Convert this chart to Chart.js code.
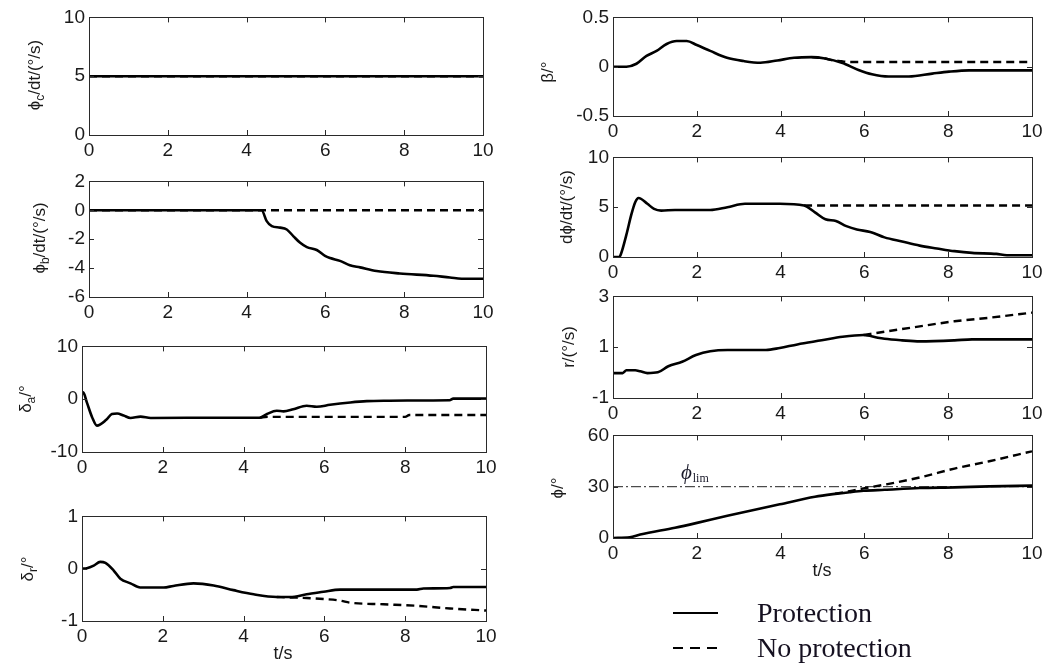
<!DOCTYPE html>
<html>
<head>
<meta charset="utf-8">
<script src="https://cdn.jsdelivr.net/npm/chart.js@4.4.0/dist/chart.umd.min.js"></script>
<style>
  body { margin: 0; background: #fff; }
  #page { position: relative; width: 1050px; height: 671px; overflow: hidden; font-family: "Liberation Sans", Arial, sans-serif; color: #1a1a1a; }
  canvas { position: absolute; }
  .ylab { position: absolute; transform: translate(-50%, -50%) rotate(-90deg); white-space: nowrap; font-size: 17px; line-height: 1; }
  .ylab sub { font-size: 12px; vertical-align: -4px; }
  .xlab { position: absolute; transform: translate(-50%, -50%); font-size: 18px; }
  .key { position: absolute; height: 0; border-top: 2.5px solid #000; }
  .keytext { position: absolute; transform: translateY(-50%); font-family: "Liberation Serif", "Times New Roman", serif; font-size: 28px; color: #151020; white-space: nowrap; }
</style>
</head>
<body>
<div id="page">
  <canvas id="c1"></canvas>
  <canvas id="c2"></canvas>
  <canvas id="c3"></canvas>
  <canvas id="c4"></canvas>
  <canvas id="c5"></canvas>
  <canvas id="c6"></canvas>
  <canvas id="c7"></canvas>
  <canvas id="c8"></canvas>

  <div class="ylab" style="left:36px;top:75px">ϕ<sub>c</sub>/dt/(°/s)</div>
  <div class="ylab" style="left:41px;top:238px">ϕ<sub>b</sub>/dt/(°/s)</div>
  <div class="ylab" style="left:27px;top:399px">δ<sub>a</sub>/°</div>
  <div class="ylab" style="left:29px;top:569px">δ<sub>r</sub>/°</div>
  <div class="ylab" style="left:547px;top:72px">β/°</div>
  <div class="ylab" style="left:566px;top:207px">dϕ/dt/(°/s)</div>
  <div class="ylab" style="left:568px;top:347px">r/(°/s)</div>
  <div class="ylab" style="left:557px;top:488px">ϕ/°</div>

  <div class="xlab" style="left:283px;top:653px">t/s</div>
  <div class="xlab" style="left:822px;top:570px">t/s</div>

  <div class="key" style="left:673px;top:612px;width:45px"></div>
  <div class="key" style="left:673px;top:647px;width:10px"></div>
  <div class="key" style="left:690px;top:647px;width:10px"></div>
  <div class="key" style="left:707px;top:647px;width:10px"></div>
  <div class="keytext" style="left:757px;top:613px">Protection</div>
  <div class="keytext" style="left:757px;top:648px">No protection</div>
</div>

<script>
// x axis (time, s)
const xTicks = [0, 2, 4, 6, 8, 10];

// y tick labels per panel
const yTicks1 = [0, 5, 10];
const yTicks2 = [-6, -4, -2, 0, 2];
const yTicks3 = [-10, 0, 10];
const yTicks4 = [-1, 0, 1];
const yTicks5 = [-0.5, 0, 0.5];
const yTicks6 = [0, 5, 10];
const yTicks7 = [-1, 1, 3];
const yTicks8 = [0, 30, 60];

// commanded roll rate
const t1 = [0, 10];
const phiCDot = [5, 5];
const phiCDotNo = [5, 5];

// protection roll rate
const t2 = [0, 4.38, 4.51, 4.64, 4.85, 5.02, 5.19, 5.36, 5.53, 5.78, 5.99, 6.12, 6.37, 6.62, 6.88, 7.30, 7.89, 8.74, 9.16, 9.59, 10];
const phiBDot = [0, 0, -0.75, -1.1, -1.2, -1.33, -1.8, -2.25, -2.55, -2.75, -3.15, -3.3, -3.5, -3.8, -3.95, -4.2, -4.37, -4.53, -4.65, -4.74, -4.74];
const t2No = [0, 10];
const phiBDotNo = [0, 0];

// aileron
const t3 = [0, 0.03, 0.12, 0.25, 0.37, 0.6, 0.74, 0.87, 1.03, 1.2, 1.45, 1.7, 3.5, 4.4, 4.58, 4.82, 4.99, 5.23, 5.56, 5.81, 6.14, 6.64, 7.05, 7.6, 8.05, 9.1, 9.19, 10];
const deltaA = [1.0, 1.3, -0.6, -3.4, -5.0, -3.9, -2.8, -2.7, -3.1, -3.55, -3.3, -3.55, -3.5, -3.5, -2.8, -2.2, -2.3, -1.9, -1.25, -1.44, -1.06, -0.62, -0.37, -0.28, -0.25, -0.2, 0.1, 0.1];
const t3No = [4.4, 4.6, 8.0, 8.1, 10];
const deltaANo = [-3.5, -3.35, -3.35, -3.0, -3.0];

// rudder
const t4 = [0, 0.12, 0.29, 0.45, 0.58, 0.78, 0.95, 1.2, 1.44, 2.02, 2.26, 2.76, 3.26, 3.75, 4.25, 4.82, 5.15, 5.56, 5.98, 6.39, 6.64, 7.46, 8.29, 8.45, 9.11, 9.19, 10];
const deltaR = [0, 0.01, 0.06, 0.13, 0.11, -0.03, -0.19, -0.28, -0.36, -0.36, -0.33, -0.28, -0.32, -0.41, -0.49, -0.54, -0.54, -0.49, -0.44, -0.40, -0.40, -0.40, -0.40, -0.38, -0.37, -0.35, -0.35];
const t4No = [4.82, 5.15, 5.56, 5.98, 6.39, 6.64, 7.46, 8.29, 9.11, 10];
const deltaRNo = [-0.54, -0.55, -0.56, -0.58, -0.61, -0.65, -0.68, -0.71, -0.76, -0.80];

// sideslip
const t5 = [0, 0.32, 0.56, 0.8, 1.04, 1.28, 1.52, 1.76, 2.0, 2.32, 2.72, 3.12, 3.52, 3.92, 4.32, 4.74, 5.06, 5.46, 5.86, 6.18, 6.58, 7.06, 7.62, 8.02, 8.5, 10];
const beta = [0, 0, 0.03, 0.11, 0.16, 0.23, 0.26, 0.26, 0.22, 0.16, 0.09, 0.057, 0.04, 0.063, 0.09, 0.097, 0.083, 0.04, -0.033, -0.077, -0.1, -0.1, -0.07, -0.05, -0.037, -0.037];
const t5No = [4.74, 5.06, 5.22, 5.46, 5.62, 10];
const betaNo = [0.097, 0.083, 0.067, 0.055, 0.047, 0.047];

// roll rate
const t6 = [0, 0.15, 0.19, 0.32, 0.44, 0.53, 0.61, 0.82, 0.98, 1.15, 1.48, 2.32, 2.73, 3.15, 3.98, 4.56, 4.82, 5.07, 5.32, 5.57, 5.82, 6.14, 6.48, 6.9, 7.32, 7.73, 8.15, 8.57, 9.15, 9.4, 10];
const rollRate = [0, 0, 0.3, 2.24, 4.3, 5.5, 5.93, 5.34, 4.83, 4.66, 4.72, 4.72, 5.0, 5.34, 5.34, 5.17, 4.48, 3.79, 3.62, 3.1, 2.76, 2.52, 1.97, 1.55, 1.14, 0.86, 0.59, 0.41, 0.31, 0.17, 0.17];
const t6No = [4.56, 10];
const rollRateNo = [5.17, 5.17];

// yaw rate
const t7 = [0, 0.23, 0.32, 0.53, 0.65, 0.82, 1.07, 1.32, 1.65, 1.98, 2.32, 2.73, 3.65, 3.98, 4.4, 4.98, 5.48, 5.98, 6.32, 6.48, 6.9, 7.32, 8.15, 8.57, 10];
const yawRate = [-0.02, -0.02, 0.09, 0.09, 0.05, -0.02, 0.01, 0.25, 0.43, 0.69, 0.84, 0.89, 0.89, 0.97, 1.11, 1.27, 1.41, 1.48, 1.37, 1.33, 1.27, 1.23, 1.27, 1.31, 1.31];
const t7No = [5.98, 6.48, 7.32, 8.15, 8.98, 10];
const yawRateNo = [1.48, 1.61, 1.82, 2.02, 2.16, 2.36];

// roll angle
const t8 = [0, 0.4, 0.65, 1.48, 1.98, 2.73, 3.98, 4.82, 5.3, 5.65, 5.98, 6.48, 7.32, 8.15, 8.98, 10];
const rollAngle = [0, 0.4, 2, 6, 8.7, 13, 19.7, 24.1, 25.8, 26.8, 27.6, 28.2, 29.2, 29.6, 30.2, 30.6];
const t8No = [5.3, 5.65, 5.98, 6.48, 7.32, 8.15, 8.98, 10];
const rollAngleNo = [25.9, 27.4, 29.0, 31.2, 35.4, 40.6, 44.9, 50.7];
const tLim = [0, 10];
const phiLim = [30, 30];

// styles
const solid = { borderColor: '#000', borderWidth: 2.6, borderDash: [] };
const dashed = { borderColor: '#000', borderWidth: 2.4, borderDash: [8, 5] };
const dashDot = { borderColor: '#222', borderWidth: 1, borderDash: [10, 3, 2, 3] };
const tickFont = { family: '"Liberation Sans", Arial, sans-serif', size: 19 };

const pts = (t, v) => t.map((x, i) => ({ x: x, y: v[i] }));

// box + inward ticks, matlab look
const frame = {
    id: 'frame',
    afterDatasetsDraw(chart) {
        const { ctx, chartArea: a, scales: { x, y } } = chart;
        const yt = chart.options.plugins.frame.yTicks;
        ctx.save();
        ctx.strokeStyle = '#2a2a2a';
        ctx.lineWidth = 1;
        ctx.strokeRect(Math.round(a.left) + 0.5, Math.round(a.top) + 0.5, Math.round(a.width), Math.round(a.height));
        ctx.beginPath();
        xTicks.forEach(v => {
            const px = Math.round(x.getPixelForValue(v)) + 0.5;
            ctx.moveTo(px, a.bottom); ctx.lineTo(px, a.bottom - 5);
            ctx.moveTo(px, a.top); ctx.lineTo(px, a.top + 5);
        });
        yt.forEach(v => {
            const py = Math.round(y.getPixelForValue(v)) + 0.5;
            ctx.moveTo(a.left, py); ctx.lineTo(a.left + 5, py);
            ctx.moveTo(a.right, py); ctx.lineTo(a.right - 5, py);
        });
        ctx.stroke();
        const note = chart.options.plugins.frame.note;
        if (note) {
            const nx = x.getPixelForValue(note.x), ny = y.getPixelForValue(note.y);
            ctx.fillStyle = '#1a1a2a';
            ctx.textBaseline = 'alphabetic';
            ctx.font = 'italic 21px "Liberation Serif", serif';
            ctx.fillText(note.main, nx, ny);
            const w = ctx.measureText(note.main).width;
            ctx.font = '12px "Liberation Serif", serif';
            ctx.fillText(note.sub, nx + w + 1, ny + 3);
        }
        ctx.restore();
    }
};

function panel(id, box, yTicks, lines, note) {
    const padL = 60, padT = 14, padR = 18, padB = 30;
    const cv = document.getElementById(id);
    const w = box[2] - box[0] + padL + padR;
    const h = box[3] - box[1] + padT + padB;
    cv.width = w; cv.height = h;
    cv.style.left = (box[0] - padL) + 'px';
    cv.style.top = (box[1] - padT) + 'px';
    cv.style.width = w + 'px';
    cv.style.height = h + 'px';

    new Chart(cv, {
        type: 'line',
        data: {
            datasets: lines.map(l => Object.assign({
                data: pts(l[0], l[1]),
                pointRadius: 0,
                fill: false,
                cubicInterpolationMode: 'monotone'
            }, l[2]))
        },
        options: {
            responsive: false,
            animation: false,
            layout: { padding: { left: 0, top: padT, right: padR, bottom: 0 } },
            plugins: {
                legend: { display: false },
                tooltip: { enabled: false },
                frame: { yTicks: yTicks, note: note }
            },
            scales: {
                x: {
                    type: 'linear', min: 0, max: 10,
                    afterBuildTicks: s => { s.ticks = xTicks.map(v => ({ value: v })); },
                    afterFit: s => { s.height = padB; },
                    grid: { display: false, drawTicks: false }, border: { display: false },
                    ticks: { font: tickFont, color: '#1a1a1a', padding: 4, maxRotation: 0, autoSkip: false, callback: v => String(v) }
                },
                y: {
                    type: 'linear', min: yTicks[0], max: yTicks[yTicks.length - 1],
                    afterBuildTicks: s => { s.ticks = yTicks.map(v => ({ value: v })); },
                    afterFit: s => { s.width = padL; },
                    grid: { display: false, drawTicks: false }, border: { display: false },
                    ticks: { font: tickFont, color: '#1a1a1a', padding: 4, autoSkip: false, callback: v => String(v) }
                }
            }
        },
        plugins: [frame]
    });
}

// plot boxes [left, top, right, bottom] in page pixels
panel('c1', [89, 16, 483, 135], yTicks1, [[t1, phiCDot, solid], [t1, phiCDotNo, dashed]]);
panel('c2', [89, 180, 483, 297], yTicks2, [[t2, phiBDot, solid], [t2No, phiBDotNo, dashed]]);
panel('c3', [82, 345, 486, 452], yTicks3, [[t3, deltaA, solid], [t3No, deltaANo, dashed]]);
panel('c4', [82, 515, 486, 621], yTicks4, [[t4, deltaR, solid], [t4No, deltaRNo, dashed]]);
panel('c5', [613, 16, 1032, 116], yTicks5, [[t5, beta, solid], [t5No, betaNo, dashed]]);
panel('c6', [613, 156, 1032, 257], yTicks6, [[t6, rollRate, solid], [t6No, rollRateNo, dashed]]);
panel('c7', [613, 295, 1032, 398], yTicks7, [[t7, yawRate, solid], [t7No, yawRateNo, dashed]]);
panel('c8', [613, 434, 1032, 538], yTicks8, [[t8, rollAngle, solid], [t8No, rollAngleNo, dashed], [tLim, phiLim, dashDot]],
      { x: 1.62, y: 34.6, main: 'ϕ', sub: 'lim' });
</script>
</body>
</html>
